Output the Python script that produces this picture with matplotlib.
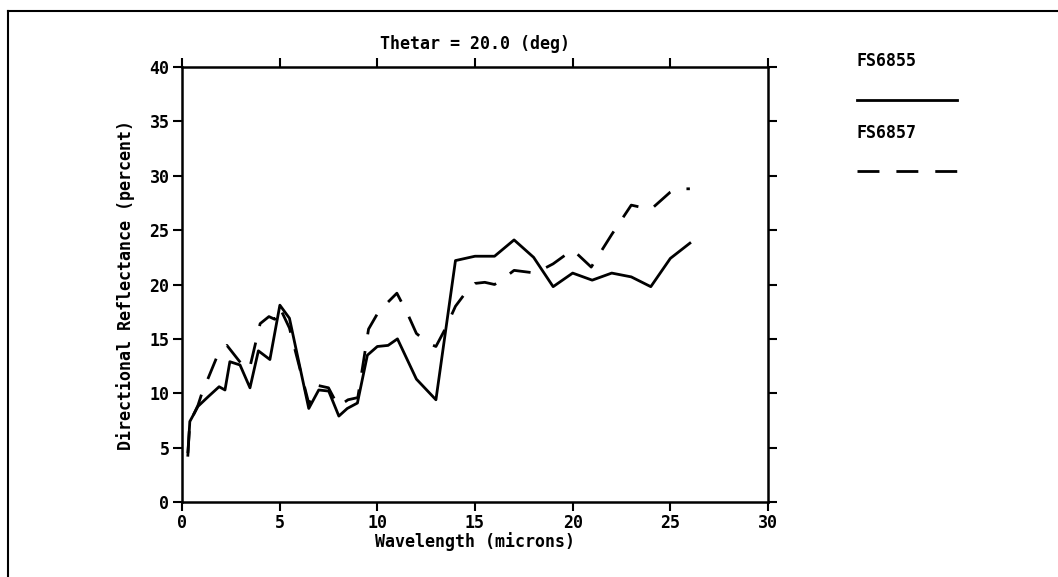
import matplotlib
matplotlib.use("Agg")
import matplotlib.pyplot as plt
from matplotlib.lines import Line2D

# FS6855 (trait plein)
wl_6855 = [0.30, 0.40, 0.82, 1.35, 1.90, 2.20, 2.45, 2.97, 3.48, 3.91, 4.50, 5.01,
           5.50, 6.49, 7.00, 7.51, 8.03, 8.46, 8.98, 9.49, 10.0, 10.55, 11.03, 12.0,
           13.0, 14.0, 15.0, 16.0, 17.0, 18.0, 19.0, 20.0, 21.0, 22.0, 23.0, 24.0,
           25.0, 26.0]
refl_6855 = [4.3, 7.4, 8.8, 9.7, 10.6, 10.3, 12.9, 12.6, 10.5, 13.9, 13.1, 18.1,
             16.9, 8.6, 10.3, 10.2, 7.9, 8.6, 9.1, 13.5, 14.3, 14.4, 15.0, 11.3,
             9.4, 22.2, 22.6, 22.6, 24.1, 22.5, 19.8, 21.05, 20.4, 21.05, 20.7, 19.8,
             22.4, 23.8]

# FS6857 (tirets)
wl_6857 = [0.30, 0.40, 0.82, 1.0, 1.8, 2.3, 3.0, 3.45, 4.0, 4.45, 4.75, 5.0, 5.5,
           6.5, 7.0, 7.5, 8.0, 8.5, 9.0, 9.55, 10.0, 10.5, 11.0, 11.55, 12.0, 12.6,
           13.0, 13.5, 14.0, 14.5, 15.0, 15.5, 16.0, 16.5, 17.0, 18.1, 19.0, 20.0,
           20.95, 22.0, 23.0, 24.0, 25.0, 25.3, 26.0]
refl_6857 = [4.5, 7.3, 8.9, 9.9, 13.4, 14.4, 12.8, 12.2, 16.4, 17.05, 16.8, 17.9, 16.0,
             9.0, 10.7, 10.5, 8.8, 9.4, 9.6, 15.9, 17.3, 18.3, 19.2, 17.3, 15.5, 14.6,
             14.3, 16.0, 18.0, 19.2, 20.1, 20.2, 20.0, 20.6, 21.3, 21.05, 21.9, 23.2,
             21.6, 24.6, 27.3, 26.9, 28.5, 28.8, 28.8]

x_ticks = [0, 5, 10, 15, 20, 25, 30]
y_ticks = [0, 5, 10, 15, 20, 25, 30, 35, 40]
noms = ["FS6855", "FS6857"]

plt.rcParams["font.family"] = ["DejaVu Sans Mono"]
plt.rcParams["font.weight"] = "bold"
plt.rcParams["axes.labelweight"] = "bold"
plt.rcParams["lines.scale_dashes"] = False

W, H = 1058, 577
fs = 12
fig = plt.figure(figsize=(W / 100, H / 100), dpi=100)
ax = fig.add_axes([182 / W, 75 / H, 586 / W, 435 / H])

lw = 2.0
tirets = (15.8, 12.2)
ax.plot(wl_6855, refl_6855, color="black", lw=lw, solid_joinstyle="round")
ax.plot(wl_6857, refl_6857, color="black", lw=lw, dashes=tirets,
        dash_joinstyle="round")

ax.set_xlim(0, 30)
ax.set_ylim(0, 40)
ax.set_xticks(x_ticks)
ax.set_yticks(y_ticks)
ax.tick_params(direction="out", length=6.5, width=1.5, top=True, right=True,
               labeltop=False, labelright=False, labelsize=fs, pad=2.5)
for sp in ax.spines.values():
    sp.set_linewidth(1.8)

ax.set_xlabel("Wavelength (microns)", fontsize=fs, va="center")
ax.xaxis.set_label_coords(0.5, (502 - 542) / 435)
ax.set_ylabel("Directional Reflectance (percent)", fontsize=fs, va="center")
ax.yaxis.set_label_coords((125.5 - 182) / 586, 0.5)
ax.text(0.5, (502 - 44) / 435, "Thetar = 20.0 (deg)", transform=ax.transAxes,
        ha="center", va="center", fontsize=fs)

# légende à droite : nom au-dessus, trait en dessous
fig.text(857 / W, 1 - 61 / H, noms[0], ha="left", va="center", fontsize=fs)
fig.add_artist(Line2D([857 / W, 957 / W], [1 - 100 / H] * 2, transform=fig.transFigure,
                      color="black", lw=lw))
fig.text(857 / W, 1 - 132.5 / H, noms[1], ha="left", va="center", fontsize=fs)
fig.add_artist(Line2D([857 / W, 957 / W], [1 - 170.7 / H] * 2, transform=fig.transFigure,
                      color="black", lw=lw, dashes=tirets))

# cadre de la page scannée (haut et gauche seulement)
fig.add_artist(Line2D([7.5 / W, 1], [1 - 11 / H] * 2, transform=fig.transFigure,
                      color="black", lw=1.5))
fig.add_artist(Line2D([7.5 / W, 7.5 / W], [0, 1 - 11 / H], transform=fig.transFigure,
                      color="black", lw=1.5))

fig.savefig("out.png", dpi=100)
